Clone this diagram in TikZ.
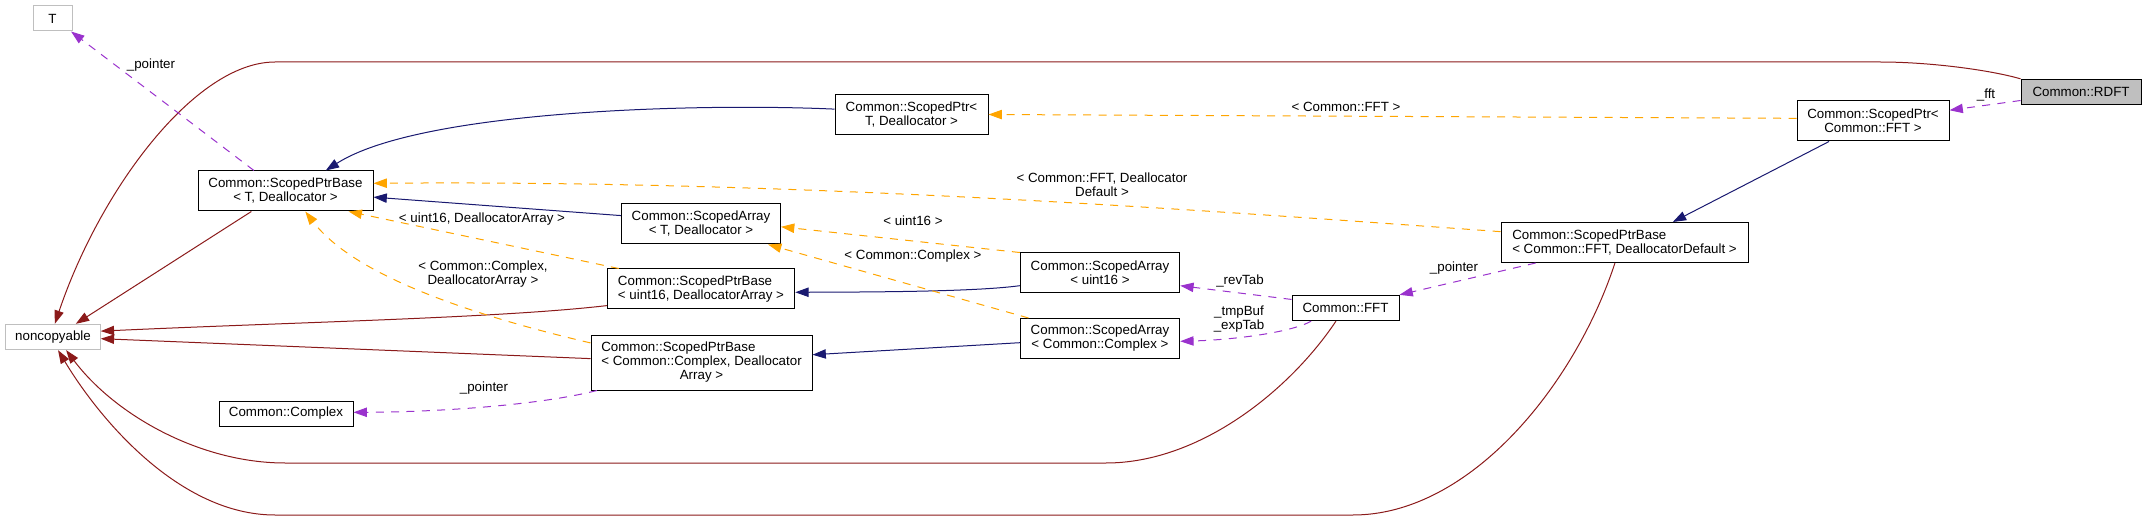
\documentclass[tikz,border=0pt]{standalone}
\usepackage{fontspec}
\setmainfont{Liberation Sans}
\usepackage{xcolor}
\usepackage{tikz}
\usetikzlibrary{arrows.meta}
\definecolor{privred}{HTML}{8B1A1A}
\definecolor{pubblue}{HTML}{191970}
\definecolor{tmplorange}{HTML}{FFA500}
\definecolor{usepurple}{HTML}{9A32CD}
\definecolor{boxgray}{HTML}{BFBFBF}

\begin{document}
\begin{tikzpicture}[x=0.75pt,y=0.75pt,yscale=-1,xscale=1,
  cls/.style={draw=black,fill=white,line width=0.75pt,inner sep=0pt,minimum height=19pt,font=\fontsize{10}{10.5}\selectfont,align=center},
  cls2/.style={cls,minimum height=30pt},
  ext/.style={cls,draw=boxgray},
  lbl/.style={inner sep=0pt,font=\fontsize{10}{10.5}\selectfont,align=center},
  headed/.style={-{Triangle[length=10pt,width=7pt]}},
  priv/.style={headed,draw=privred,line width=0.75pt},
  pub/.style={headed,draw=pubblue,line width=0.75pt},
  tmpl/.style={headed,draw=tmplorange,line width=0.75pt,dash pattern=on 6pt off 5.5pt},
  uses/.style={headed,draw=usepurple,line width=0.75pt,dash pattern=on 6pt off 5.5pt}]

\useasboundingbox (0,0) rectangle (2145,520);



\node[ext,minimum width=29.25pt,minimum height=18.75pt] (T) at (52.5,18.5) {T};

\node[ext,minimum width=70.9pt] (noncop) at (53,337) {noncopyable};

\node[cls,fill=boxgray,minimum width=90pt] (rdft) at (2081,92) {Common::RDFT};

\node[cls2,minimum width=114pt] (spfft) at (1873,121) {Common::ScopedPtr<\\Common::FFT >};

\node[cls2,minimum width=114.75pt] (spt) at (911.5,114.5) {Common::ScopedPtr<\\T, Deallocator >};

\node[cls2,minimum width=131.25pt] (sptb) at (285.5,191) {Common::ScopedPtrBase\\< T, Deallocator >};

\node[cls2,minimum width=185.25pt,align=left] (spbfft) at (1624.5,242.5) {Common::ScopedPtrBase\\< Common::FFT, DeallocatorDefault >};

\node[cls2,minimum width=119.25pt] (sat) at (701,224) {Common::ScopedArray\\< T, Deallocator >};

\node[cls2,minimum width=140.6pt,align=left] (spbu) at (701,289) {Common::ScopedPtrBase\\< uint16, DeallocatorArray >};

\node[cls2,minimum width=119.6pt] (sau) at (1100,273) {Common::ScopedArray\\< uint16 >};

\node[cls2,minimum width=119.6pt] (sac) at (1100,338.5) {Common::ScopedArray\\< Common::Complex >};

\node[cls,minimum width=165.75pt,minimum height=41.25pt] (spbc) at (701.5,362.5) {\begin{tabular}{@{}l@{}}Common::ScopedPtrBase\\< Common::Complex, Deallocator\\\multicolumn{1}{@{}c@{}}{Array >}\end{tabular}};

\node[cls,minimum width=80.25pt] (fft) at (1345.5,308) {Common::FFT};

\node[cls,minimum width=100.5pt,minimum height=18.75pt] (cplx) at (286,413.5) {Common::Complex};



\draw[priv] (rdft.north west) .. controls (1990,70) and (1930,62) .. (1880,62) -- (275,62) .. controls (195,62) and (100,190) .. (noncop.82);

\draw[uses] (rdft.188) -- (spfft.8);

\node[lbl] (lfft) at (1986,95) {\_fft};

\draw[pub] (spfft.205) -- (spbfft.23);

\draw[tmpl] (spfft.178) -- (spt.east);

\node[lbl] (lspfft) at (1346,107) {< Common::FFT >};

\draw[pub] (spt.176) .. controls (700,103) and (420,110) .. (sptb.27);

\draw[uses] (sptb.147) -- (T.325);

\node[lbl] (lptrt) at (151,65) {\_pointer};

\draw[priv] (sptb.211) -- (noncop.30);

\draw[tmpl] (spbfft.175) .. controls (1200,210) and (800,180) .. (sptb.5);

\node[lbl] (lspbfft) at (1102,184.5) {< Common::FFT, Deallocator\\Default >};

\draw[uses] (spbfft.193) -- (fft.north east);

\node[lbl] (lptrfft) at (1454,268) {\_pointer};

\draw[priv] (spbfft.245) .. controls (1575,385) and (1470,515) .. (1353,515) -- (275,515) .. controls (180,515) and (100,420) .. (noncop.291);

\draw[uses] (fft.171) -- (sau.351);

\node[lbl] (lrev) at (1240,281) {\_revTab};

\draw[uses] (fft.201) .. controls (1290,333) and (1230,340) .. (sac.358);

\node[lbl] (lbuf) at (1239,319.5) {\_tmpBuf\\\_expTab};

\draw[priv] (fft.234) .. controls (1290,390) and (1200,463) .. (1106,463) -- (285,463) .. controls (200,463) and (115,415) .. (noncop.315);

\draw[pub] (sau.189) .. controls (980,291) and (900,292) .. (spbu.358);

\draw[tmpl] (sau.north west) -- (sat.358);

\node[lbl] (lsau) at (913,221) {< uint16 >};

\draw[pub] (sac.183) -- (spbc.4);

\draw[tmpl] (sac.164) -- (sat.343);

\node[lbl] (lsac) at (913,256) {< Common::Complex >};

\draw[pub] (sat.174) -- (sptb.356);

\draw[tmpl] (spbu.166) -- (sptb.342.5);

\node[lbl] (lspbu) at (482,219) {< uint16, DeallocatorArray >};

\draw[priv] (spbu.190) .. controls (500,318) and (300,322) .. (noncop.7);

\draw[tmpl] (spbc.170) .. controls (450,310) and (350,270) .. (sptb.314);

\node[lbl] (lspbc) at (483,274) {< Common::Complex,\\DeallocatorArray >};

\draw[priv] (spbc.178) -- (noncop.358);

\draw[uses] (spbc.195) .. controls (540,405) and (440,412) .. (cplx.1);

\node[lbl] (lptrc) at (484,388) {\_pointer};

\end{tikzpicture}
\end{document}
